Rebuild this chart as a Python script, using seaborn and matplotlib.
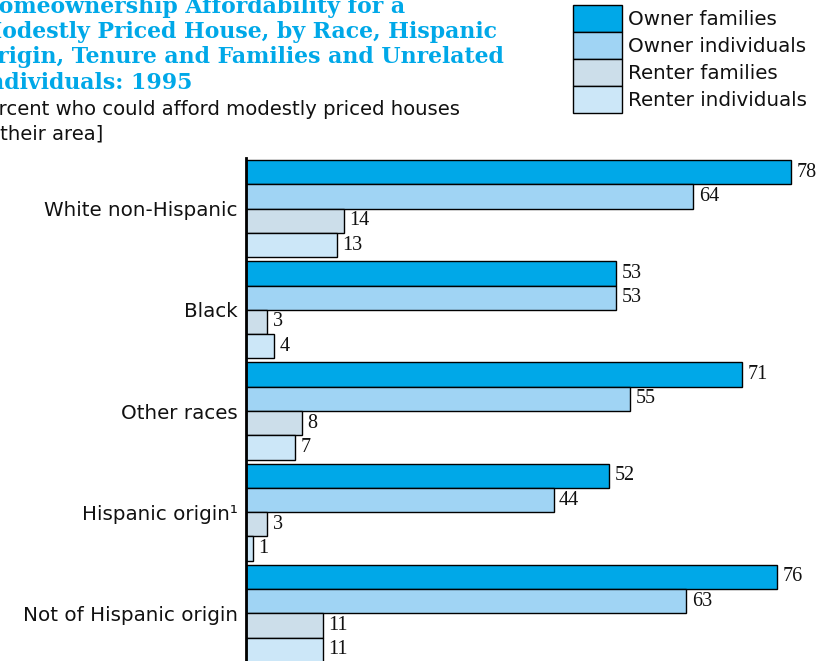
import matplotlib
matplotlib.use("Agg")
import matplotlib.pyplot as plt
from matplotlib.patches import Patch
import seaborn as sns
import pandas as pd

categories = ["White non-Hispanic", "Black", "Other races", "Hispanic origin\u00b9", "Not of Hispanic origin"]
series = ["Owner families", "Owner individuals", "Renter families", "Renter individuals"]
owner_families = [78, 53, 71, 52, 76]
owner_individuals = [64, 53, 55, 44, 63]
renter_families = [14, 3, 8, 3, 11]
renter_individuals = [13, 4, 7, 1, 11]
colors = ["#00A8E8", "#A0D4F4", "#CCDEEA", "#CCE7F8"]

title_lines = ["Homeownership Affordability for a",
               "Modestly Priced House, by Race, Hispanic",
               "Origin, Tenure and Families and Unrelated",
               "Individuals: 1995"]
subtitle_lines = ["[Percent who could afford modestly priced houses",
                  "in their area]"]

rows = []
for name, vals in zip(series, [owner_families, owner_individuals, renter_families, renter_individuals]):
    for c, v in zip(categories, vals):
        rows.append({"category": c, "series": name, "value": v})
df = pd.DataFrame(rows)

sns.set_style("white")
W, H = 817, 661
fig = plt.figure(figsize=(W / 100, H / 100), dpi=100)
ax = fig.add_axes([246 / W, 1 - 664 / H, (W - 246) / W, (664 - 158) / H])

sns.barplot(data=df, y="category", x="value", hue="series", order=categories,
            hue_order=series, palette=colors, orient="h", width=0.96,
            edgecolor="black", linewidth=1, legend=False, ax=ax, saturation=1)

for cont in ax.containers:
    ax.bar_label(cont, padding=4, fontsize=14.5, family="Liberation Serif", color="#111111")

ax.set_xlim(0, (W - 246) / 6.99)
ax.set_ylim(4.5, -0.5)
ax.set_xlabel("")
ax.set_ylabel("")
ax.set_xticks([])
for s in ["top", "right", "bottom"]:
    ax.spines[s].set_visible(False)
ax.spines["left"].set_color("black")
ax.spines["left"].set_linewidth(2)
ax.tick_params(axis="y", length=0, pad=6, labelsize=14.3, labelcolor="#111111")
for lab in ax.get_yticklabels():
    lab.set_family("DejaVu Sans")

handles = [Patch(facecolor=c, edgecolor="black", linewidth=1) for c in colors]
leg = fig.legend(handles, series, loc="upper left", bbox_to_anchor=(573 / W, 1 - 5 / H),
                 frameon=False, fontsize=14.3, handlelength=2.46, handleheight=1.715,
                 labelspacing=0, handletextpad=0.3, borderpad=0, borderaxespad=0)
for t in leg.get_texts():
    t.set_color("#111111")

baselines = [13, 38, 63, 89]
for yb, line in zip(baselines, title_lines):
    fig.text(-22 / W, 1 - yb / H, line, ha="left", va="baseline",
             fontsize=15.8, fontweight="bold", family="DejaVu Serif", color="#00A8E8")
fig.text(-32 / W, 1 - 115 / H, subtitle_lines[0], ha="left", va="baseline",
         fontsize=14.1, family="DejaVu Sans", color="#111111")
fig.text(-24 / W, 1 - 139 / H, subtitle_lines[1], ha="left", va="baseline",
         fontsize=14.1, family="DejaVu Sans", color="#111111")

fig.savefig("out.png", dpi=100)
